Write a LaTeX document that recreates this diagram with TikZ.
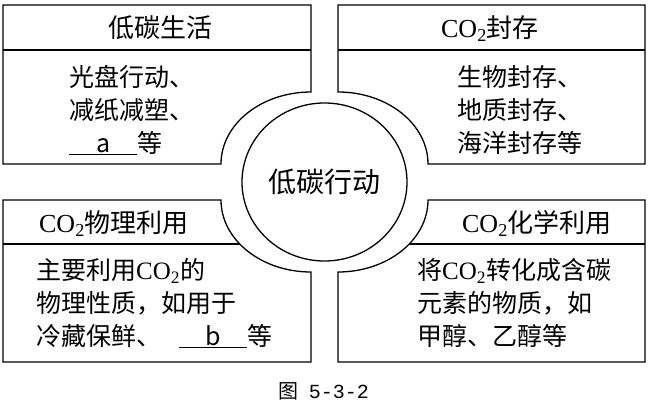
\documentclass[tikz,border=0pt]{standalone}
\usepackage{fontspec}
\setmainfont{Liberation Serif}
\newfontfamily\cjk{Noto Sans CJK SC}
\newfontfamily\mono{Liberation Mono}
\usepackage{tikz}
\usetikzlibrary{shapes.geometric}
\tikzstyle{outline} = [line width=1.3pt, line join=miter]
\tikzstyle{header} = [font=\cjk\fontsize{26}{30}\selectfont, inner sep=0pt, text height=22pt, text depth=2pt]
\tikzstyle{body} = [font=\cjk\fontsize{25}{33}\selectfont, align=left, anchor=west, inner sep=0pt]
\tikzstyle{hub} = [ellipse, draw, line width=1.3pt, minimum width=165pt, minimum height=158pt, inner sep=0pt, font=\cjk\fontsize{28}{32}\selectfont]
\tikzstyle{caption} = [font=\cjk\fontsize{20}{22}\selectfont, inner sep=0pt]
\newcommand{\cotwo}{{\rmfamily CO\textsubscript{2}}}
\newcommand{\blank}[1]{\underline{\makebox[68pt]{#1}}}

\begin{document}
\begin{tikzpicture}[x=1pt, y=-1pt]
\useasboundingbox (0,0) rectangle (649,404);

\draw [outline] (3,5) -- (311,5) -- (311,92) arc[start angle=-90, end angle=-180, x radius=90, y radius=72] -- (3,164) -- cycle;
\draw [outline] (3,50) -- (311,50);
\draw [outline] (338,5) -- (645,5) -- (645,164) -- (428,164) arc[start angle=0, end angle=-90, x radius=90, y radius=72] -- cycle;
\draw [outline] (338,50) -- (645,50);
\draw [outline] (3,200) -- (221,200) arc[start angle=180, end angle=90, x radius=90, y radius=72] -- (311,362) -- (3,362) -- cycle;
\draw [outline] (3,244) -- (239.8,244);
\draw [outline] (645,200) -- (645,362) -- (338,362) -- (338,272) arc[start angle=90, end angle=0, x radius=90, y radius=72] -- cycle;
\draw [outline] (409.2,244) -- (645,244);

\node (life) [header] at (160,28) {低碳生活};
\node (store) [header] at (490,28) {\cotwo 封存};
\node (phys) [header] at (114,223) {\cotwo 物理利用};
\node (chem) [header] at (537,223) {\cotwo 化学利用};

\node (lifeText) [body] at (69,110) {光盘行动、\\减纸减塑、\\\blank{a}等};
\node (storeText) [body] at (457,110) {生物封存、\\地质封存、\\海洋封存等};
\node (physText) [body] at (36,303) {主要利用\cotwo 的\\物理性质，如用于\\冷藏保鲜、\hspace{18pt}\blank{b}等};
\node (chemText) [body] at (417,303) {将\cotwo 转化成含碳\\元素的物质，如\\甲醇、乙醇等};

\node (action) [hub] at (324.5,182) {低碳行动};
\node (fig) [caption] at (324,391) {图\hspace{10pt}{\mono 5-3-2}};

\end{tikzpicture}
\end{document}
